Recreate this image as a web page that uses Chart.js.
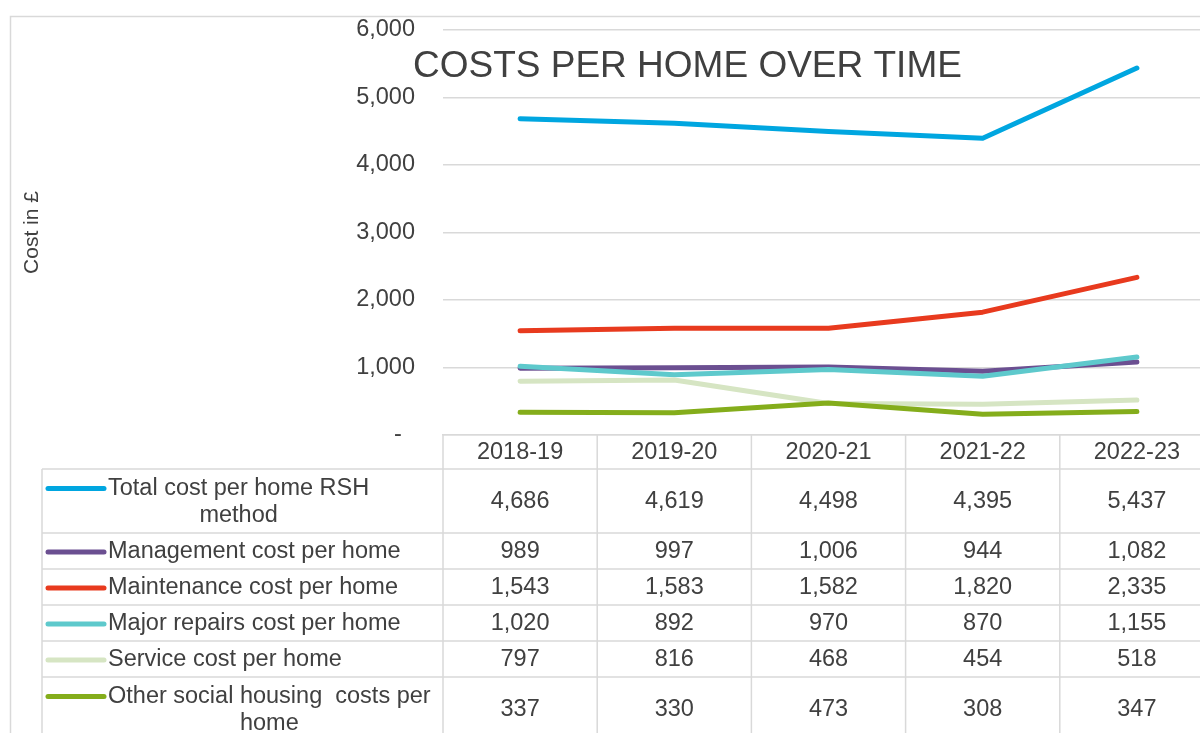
<!DOCTYPE html>
<html>
<head>
<meta charset="utf-8">
<script src="https://cdn.jsdelivr.net/npm/chart.js@4.4.0/dist/chart.umd.min.js"></script>
<style>
  html, body { margin: 0; padding: 0; background: #fff; overflow: hidden; }
  canvas { display: block; }
</style>
</head>
<body>
<canvas id="chart" width="1240" height="760"></canvas>
<script>
// --- DATA ---
const years = ['2018-19', '2019-20', '2020-21', '2021-22', '2022-23'];
const totalCost = [4686, 4619, 4498, 4395, 5437];
const managementCost = [989, 997, 1006, 944, 1082];
const maintenanceCost = [1543, 1583, 1582, 1820, 2335];
const majorRepairsCost = [1020, 892, 970, 870, 1155];
const serviceCost = [797, 816, 468, 454, 518];
const otherCost = [337, 330, 473, 308, 347];
const seriesNames = [
    'Total cost per home RSH method',
    'Management cost per home',
    'Maintenance cost per home',
    'Major repairs cost per home',
    'Service cost per home',
    'Other social housing  costs per home'
];
const seriesValues = [totalCost, managementCost, maintenanceCost, majorRepairsCost, serviceCost, otherCost];
const seriesColors = ['#00a6e0', '#6b4f91', '#e83a1e', '#5ec9cc', '#d6e5c3', '#84ad1b'];
const chartTitle = 'COSTS PER HOME OVER TIME';
const yTitle = 'Cost in £';

const FONT = "'Liberation Sans', Arial, sans-serif";
const TEXT = '#404040';
const GRID = '#d9d9d9';

// --- PLUGIN: frame, title and data table ---
const tablePlugin = {
    id: 'dataTable',
    beforeDraw(chart) {
        const c = chart.ctx;
        c.save();
        c.fillStyle = '#fff';
        c.fillRect(0, 0, chart.width, chart.height);
        c.strokeStyle = GRID;
        c.lineWidth = 1.5;
        c.strokeRect(10.5, 16.5, chart.width, chart.height);
        c.restore();
    },
    afterDraw(chart) {
        const c = chart.ctx;
        const area = chart.chartArea;
        const xs = chart.scales.x;
        const n = years.length;
        const colW = (area.right - area.left) / n;
        const legendLeft = 42;
        const swatchL = 48, swatchR = 104, textL = 108, textMax = 334;
        const lineH = 27;

        c.save();
        c.font = '23.5px ' + FONT;

        // wrap labels
        const wrapped = seriesNames.map(name => {
            const words = name.split(' ');
            const lines = [];
            let line = '';
            words.forEach((w, i) => {
                const test = i === 0 ? w : line + ' ' + w;
                if (line && c.measureText(test).width > textMax) {
                    lines.push(line);
                    line = w;
                } else {
                    line = test;
                }
            });
            lines.push(line);
            return lines;
        });

        const headerBottom = area.bottom + 34;
        let y = headerBottom;
        const rows = wrapped.map(lines => {
            const h = 8 + lines.length * 28;
            const r = { top: y, h };
            y += h;
            return r;
        });
        const tableBottom = y;

        // grid lines
        c.strokeStyle = GRID;
        c.lineWidth = 1.5;
        c.beginPath();
        for (let i = 0; i <= n; i++) {
            const x = area.left + i * colW;
            c.moveTo(x, area.bottom);
            c.lineTo(x, tableBottom);
        }
        c.moveTo(legendLeft, headerBottom);
        c.lineTo(legendLeft, tableBottom);
        c.moveTo(legendLeft, headerBottom);
        c.lineTo(area.right, headerBottom);
        rows.forEach(r => {
            c.moveTo(legendLeft, r.top + r.h);
            c.lineTo(area.right, r.top + r.h);
        });
        c.stroke();

        // rows
        c.textBaseline = 'middle';
        c.fillStyle = TEXT;
        rows.forEach((r, s) => {
            const lines = wrapped[s];
            const mid = r.top + r.h / 2 + 1;
            const firstY = mid - (lines.length - 1) * lineH / 2;

            c.strokeStyle = seriesColors[s];
            c.lineWidth = 5;
            c.lineCap = 'round';
            c.beginPath();
            c.moveTo(swatchL, firstY);
            c.lineTo(swatchR, firstY);
            c.stroke();

            const blockW = Math.max(...lines.map(l => c.measureText(l).width));
            c.textAlign = 'center';
            lines.forEach((l, i) => {
                c.fillText(l, textL + blockW / 2, firstY + i * lineH);
            });

            seriesValues[s].forEach((v, i) => {
                c.fillText(v.toLocaleString('en-GB'), xs.getPixelForValue(i), mid);
            });
        });

        // title
        c.font = '37px ' + FONT;
        c.textAlign = 'left';
        c.fillText(chartTitle, 413, 67);
        c.restore();
    }
};

// --- CHART ---
const ctx = document.getElementById('chart').getContext('2d');
new Chart(ctx, {
    type: 'line',
    data: {
        labels: years,
        datasets: seriesNames.map((name, i) => ({
            label: name,
            data: seriesValues[i],
            borderColor: seriesColors[i],
            backgroundColor: seriesColors[i],
            borderWidth: 5,
            borderCapStyle: 'round',
            borderJoinStyle: 'round',
            pointRadius: 0,
            tension: 0,
            order: seriesNames.length - i
        }))
    },
    options: {
        responsive: false,
        animation: false,
        layout: { padding: { left: 10, top: 30, right: 26, bottom: 0 } },
        plugins: { legend: { display: false }, tooltip: { enabled: false } },
        scales: {
            x: {
                offset: true,
                grid: { display: false, drawTicks: false },
                border: { display: true, color: GRID, width: 1.5 },
                ticks: { color: TEXT, font: { family: FONT, size: 23.5 }, padding: 3, maxRotation: 0 },
                afterFit: s => { s.height = 325; }
            },
            y: {
                min: 0,
                max: 6000,
                ticks: {
                    stepSize: 1000,
                    color: TEXT,
                    font: { family: FONT, size: 23.5 },
                    padding: 28,
                    callback: v => v === 0 ? '-  ' : v.toLocaleString('en-GB')
                },
                grid: { color: GRID, lineWidth: 1.5, drawTicks: false },
                border: { display: false },
                title: { display: true, text: yTitle, color: TEXT, font: { family: FONT, size: 21 }, padding: { top: 10 } },
                afterFit: s => {
                    s.width = 433;
                    s.paddingTop = 0;
                    s.paddingBottom = 0;
                }
            }
        }
    },
    plugins: [tablePlugin]
});
</script>
</body>
</html>
